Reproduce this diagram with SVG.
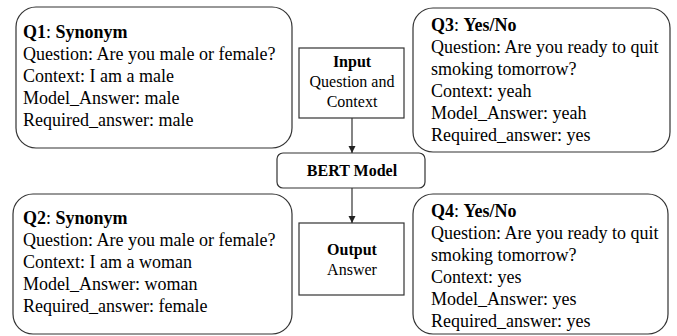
<svg xmlns="http://www.w3.org/2000/svg" width="677" height="336" viewBox="0 0 677 336" font-family="Liberation Serif, Tinos, DejaVu Serif, serif">
<style>
text{font-family:"Liberation Serif",Tinos,"DejaVu Serif",serif;font-size:18px;fill:#000}
.b{font-weight:bold}
.c{text-anchor:middle;font-size:16px}
.box{fill:#fff;stroke:#333;stroke-width:1.2}
.ln{stroke:#333;stroke-width:1.2;fill:none}
</style>
<defs>
<marker id="ah" markerWidth="8" markerHeight="8" refX="7" refY="4" orient="auto" markerUnits="userSpaceOnUse">
<path d="M0,0.5 L7,4 L0,7.5 Z" fill="#222"/>
</marker>
</defs>
<rect width="677" height="336" fill="#fff"/>
<g id="q1">
<rect class="box" x="16" y="7" width="276" height="141" rx="20"/>
<text x="23" y="38"><tspan class="b">Q1</tspan>: <tspan class="b">Synonym</tspan></text>
<text x="23" y="60">Question: Are you male or female?</text>
<text x="23" y="82">Context: I am a male</text>
<text x="23" y="104">Model_Answer: male</text>
<text x="23" y="126">Required_answer: male</text>
</g>
<g id="q3">
<rect class="box" x="413" y="8" width="257" height="144" rx="20"/>
<text x="431" y="31"><tspan class="b">Q3</tspan>: <tspan class="b">Yes/No</tspan></text>
<text x="431" y="53">Question: Are you ready to quit</text>
<text x="431" y="75">smoking tomorrow?</text>
<text x="431" y="97">Context: yeah</text>
<text x="431" y="119">Model_Answer: yeah</text>
<text x="431" y="141">Required_answer: yes</text>
</g>
<g id="input">
<rect class="box" x="299" y="48" width="105" height="70"/>
<text class="c b" x="352" y="67">Input</text>
<text class="c" x="352" y="87">Question and</text>
<text class="c" x="352" y="107">Context</text>
</g>
<g id="bert">
<rect class="box" x="277" y="153" width="148" height="35" rx="6"/>
<text class="c b" x="352" y="176">BERT Model</text>
</g>
<g id="output">
<rect class="box" x="299" y="223" width="105" height="72"/>
<text class="c b" x="352" y="255">Output</text>
<text class="c" x="352" y="275">Answer</text>
</g>
<g id="q2">
<rect class="box" x="13" y="194" width="279" height="140" rx="20"/>
<text x="23" y="224"><tspan class="b">Q2</tspan>: <tspan class="b">Synonym</tspan></text>
<text x="23" y="246">Question: Are you male or female?</text>
<text x="23" y="268">Context: I am a woman</text>
<text x="23" y="290">Model_Answer: woman</text>
<text x="23" y="312">Required_answer: female</text>
</g>
<g id="q4">
<rect class="box" x="413" y="194" width="255" height="140" rx="20"/>
<text x="431" y="217"><tspan class="b">Q4</tspan>: <tspan class="b">Yes/No</tspan></text>
<text x="431" y="239">Question: Are you ready to quit</text>
<text x="431" y="261">smoking tomorrow?</text>
<text x="431" y="283">Context: yes</text>
<text x="431" y="305">Model_Answer: yes</text>
<text x="431" y="327">Required_answer: yes</text>
</g>
<g id="connectors">
<line class="ln" x1="352" y1="118" x2="352" y2="153" marker-end="url(#ah)"/>
<line class="ln" x1="352" y1="188" x2="352" y2="223" marker-end="url(#ah)"/>
</g>
</svg>
